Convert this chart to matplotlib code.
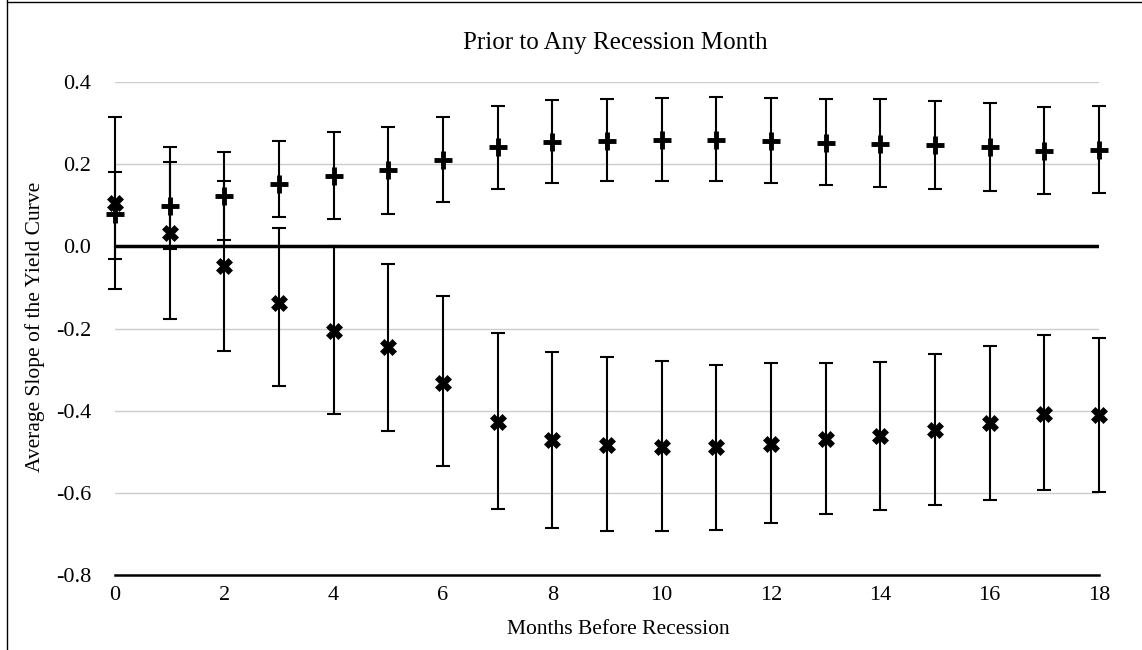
import numpy as np
import matplotlib
matplotlib.use("Agg")
import matplotlib.pyplot as plt
from matplotlib.lines import Line2D

plt.rcParams['font.family'] = ['Liberation Serif', 'DejaVu Serif']

months = list(range(19))

# "+" series: mean, upper and lower ends of the error bars
plus_mean = [0.078, 0.098, 0.122, 0.151, 0.171, 0.185, 0.210, 0.241, 0.254, 0.256,
             0.259, 0.259, 0.256, 0.252, 0.250, 0.246, 0.241, 0.233, 0.235]
plus_hi = [0.180, 0.205, 0.230, 0.256, 0.278, 0.290, 0.315, 0.341, 0.355, 0.359,
           0.362, 0.364, 0.362, 0.359, 0.359, 0.354, 0.348, 0.340, 0.342]
plus_lo = [-0.032, -0.007, 0.015, 0.071, 0.066, 0.078, 0.107, 0.139, 0.154, 0.159,
           0.159, 0.159, 0.154, 0.149, 0.144, 0.139, 0.135, 0.127, 0.130]

# "x" series
x_mean = [0.105, 0.032, -0.049, -0.137, -0.205, -0.246, -0.332, -0.427, -0.471, -0.483,
          -0.488, -0.489, -0.480, -0.468, -0.461, -0.446, -0.430, -0.407, -0.411]
x_hi = [0.315, 0.241, 0.159, 0.044, 0.002, -0.044, -0.122, -0.212, -0.258, -0.270,
        -0.279, -0.288, -0.285, -0.283, -0.281, -0.262, -0.243, -0.217, -0.223]
x_lo = [-0.105, -0.176, -0.254, -0.341, -0.407, -0.449, -0.534, -0.639, -0.685, -0.694,
        -0.694, -0.690, -0.673, -0.652, -0.641, -0.629, -0.617, -0.593, -0.599]

yticks = [-0.8, -0.6, -0.4, -0.2, 0.0, 0.2, 0.4]
xticks = [0, 2, 4, 6, 8, 10, 12, 14, 16, 18]

W, H = 1142, 650
fig = plt.figure(figsize=(W/100, H/100), dpi=100)
ax = fig.add_axes([115/W, 1-575/H, (1099-115)/W, (575-82)/H])

pm = np.array(plus_mean)
xm = np.array(x_mean)
perr = [pm - np.array(plus_lo), np.array(plus_hi) - pm]
xerr = [xm - np.array(x_lo), np.array(x_hi) - xm]

for v in yticks:
    if v not in (0.0, -0.8):
        ax.axhline(v, color='#cccccc', lw=1, zorder=0)
ax.axhline(0, color='black', lw=2.5, zorder=1)

for mean, err in [(xm, xerr), (pm, perr)]:
    eb = ax.errorbar(months, mean, yerr=err, fmt='none', ecolor='black',
                     elinewidth=1.5, capsize=5, capthick=1.5, zorder=3)
    for a in eb.lines[1] + eb.lines[2]:
        a.set_clip_on(False)

ax.plot(months, xm, 'X', color='black', ms=11, mew=0.5, zorder=4, clip_on=False)
ax.plot(months, pm, '+', color='black', ms=13, mew=3.5, zorder=4, clip_on=False)

ax.set_xlim(0, 18)
ax.set_ylim(-0.8, 0.4)
ax.set_xticks(xticks)
ax.set_yticks(yticks)
ax.set_yticklabels(['%.1f' % v for v in yticks])
ax.tick_params(axis='y', length=0, labelsize=16, pad=17)
ax.tick_params(axis='x', length=0, labelsize=16, pad=8)
for s in ['top', 'right', 'left']:
    ax.spines[s].set_visible(False)
ax.spines['bottom'].set_linewidth(1.8)
ax.spines['bottom'].set_zorder(2)

fig.text(615/W, 1-43/H, 'Prior to Any Recession Month', fontsize=18,
         ha='center', va='center')
fig.text(618/W, 1-630/H, 'Months Before Recession', fontsize=15.5,
         ha='center', va='center')
fig.text(35/W, 1-327/H, 'Average Slope of the Yield Curve', fontsize=15.5,
         ha='center', va='center', rotation=90)

fig.add_artist(Line2D([7/W, 7/W], [0, 1], color='black', lw=1))
fig.add_artist(Line2D([7/W, 1], [1-1.5/H, 1-1.5/H], color='black', lw=1))

fig.savefig('out.png', dpi=100)
